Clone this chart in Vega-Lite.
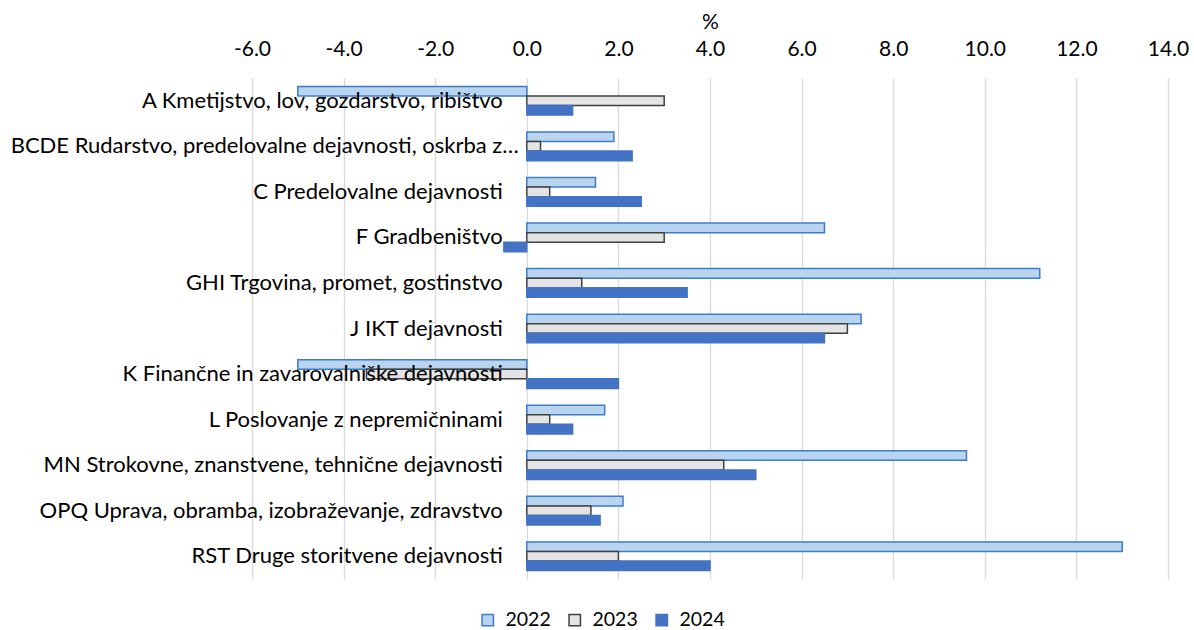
{
  "$schema": "https://vega.github.io/schema/vega-lite/v6.json",
  "width": 916,
  "height": 501,
  "autosize": "none",
  "padding": {"left": 252, "top": 78, "right": 26, "bottom": 51},
  "background": "white",
  "data": {
    "values": [
      {"sector": "A Kmetijstvo, lov, gozdarstvo, ribištvo", "year": "2022", "value": -5.0},
      {"sector": "A Kmetijstvo, lov, gozdarstvo, ribištvo", "year": "2023", "value": 3.0},
      {"sector": "A Kmetijstvo, lov, gozdarstvo, ribištvo", "year": "2024", "value": 1.0},
      {"sector": "BCDE Rudarstvo, predelovalne dejavnosti, oskrba z…", "year": "2022", "value": 1.9},
      {"sector": "BCDE Rudarstvo, predelovalne dejavnosti, oskrba z…", "year": "2023", "value": 0.3},
      {"sector": "BCDE Rudarstvo, predelovalne dejavnosti, oskrba z…", "year": "2024", "value": 2.3},
      {"sector": "C Predelovalne dejavnosti", "year": "2022", "value": 1.5},
      {"sector": "C Predelovalne dejavnosti", "year": "2023", "value": 0.5},
      {"sector": "C Predelovalne dejavnosti", "year": "2024", "value": 2.5},
      {"sector": "F Gradbeništvo", "year": "2022", "value": 6.5},
      {"sector": "F Gradbeništvo", "year": "2023", "value": 3.0},
      {"sector": "F Gradbeništvo", "year": "2024", "value": -0.5},
      {"sector": "GHI Trgovina, promet, gostinstvo", "year": "2022", "value": 11.2},
      {"sector": "GHI Trgovina, promet, gostinstvo", "year": "2023", "value": 1.2},
      {"sector": "GHI Trgovina, promet, gostinstvo", "year": "2024", "value": 3.5},
      {"sector": "J IKT dejavnosti", "year": "2022", "value": 7.3},
      {"sector": "J IKT dejavnosti", "year": "2023", "value": 7.0},
      {"sector": "J IKT dejavnosti", "year": "2024", "value": 6.5},
      {"sector": "K Finančne in zavarovalniške dejavnosti", "year": "2022", "value": -5.0},
      {"sector": "K Finančne in zavarovalniške dejavnosti", "year": "2023", "value": -3.5},
      {"sector": "K Finančne in zavarovalniške dejavnosti", "year": "2024", "value": 2.0},
      {"sector": "L Poslovanje z nepremičninami", "year": "2022", "value": 1.7},
      {"sector": "L Poslovanje z nepremičninami", "year": "2023", "value": 0.5},
      {"sector": "L Poslovanje z nepremičninami", "year": "2024", "value": 1.0},
      {"sector": "MN Strokovne, znanstvene, tehnične dejavnosti", "year": "2022", "value": 9.6},
      {"sector": "MN Strokovne, znanstvene, tehnične dejavnosti", "year": "2023", "value": 4.3},
      {"sector": "MN Strokovne, znanstvene, tehnične dejavnosti", "year": "2024", "value": 5.0},
      {"sector": "OPQ Uprava, obramba, izobraževanje, zdravstvo", "year": "2022", "value": 2.1},
      {"sector": "OPQ Uprava, obramba, izobraževanje, zdravstvo", "year": "2023", "value": 1.4},
      {"sector": "OPQ Uprava, obramba, izobraževanje, zdravstvo", "year": "2024", "value": 1.6},
      {"sector": "RST Druge storitvene dejavnosti", "year": "2022", "value": 13.0},
      {"sector": "RST Druge storitvene dejavnosti", "year": "2023", "value": 2.0},
      {"sector": "RST Druge storitvene dejavnosti", "year": "2024", "value": 4.0}
    ]
  },
  "encoding": {
    "y": {
      "field": "sector",
      "type": "nominal",
      "sort": null,
      "scale": {"paddingInner": 0.37, "paddingOuter": 0.185},
      "axis": null
    }
  },
  "layer": [
    {
      "mark": {"type": "bar", "strokeWidth": 1.5},
      "encoding": {
        "x": {
          "field": "value",
          "type": "quantitative",
          "scale": {"domain": [-6, 14], "nice": false, "zero": false},
          "axis": {
            "orient": "top",
            "values": [-6, -4, -2, 0, 2, 4, 6, 8, 10, 12, 14],
            "labelExpr": "replace(format(datum.value, '.1f'), '−', '-')",
            "title": "%",
            "titleFont": "Lato",
            "titleFontSize": 21,
            "titleFontWeight": "normal",
            "titleColor": "#000000",
            "titlePadding": 6,
            "labelFont": "Lato",
            "labelFontSize": 21,
            "labelColor": "#000000",
            "labelPadding": 19,
            "domain": false,
            "ticks": false,
            "grid": true,
            "gridColor": "#D9D9D9",
            "gridWidth": 1.3,
            "labelFlush": false
          }
        },
        "yOffset": {"field": "year", "type": "nominal", "sort": ["2022", "2023", "2024"]},
        "fill": {
          "field": "year",
          "type": "nominal",
          "scale": {"domain": ["2022", "2023", "2024"], "range": ["#B9D4EF", "#E4E4E4", "#4472C4"]},
          "legend": {
            "title": null,
            "orient": "none",
            "direction": "horizontal",
            "legendX": 226,
            "legendY": 532,
            "symbolType": "square",
            "symbolSize": 130,
            "symbolStrokeWidth": 1.5,
            "labelFont": "Lato",
            "labelFontSize": 19.5,
            "labelColor": "#000000",
            "labelOffset": 8,
            "columnPadding": 14
          }
        },
        "stroke": {
          "field": "year",
          "type": "nominal",
          "scale": {"domain": ["2022", "2023", "2024"], "range": ["#3E7CC6", "#404040", "#4472C4"]}
        }
      }
    },
    {
      "transform": [
        {"filter": "datum.year === '2022' && indexof(datum.sector, 'BCDE') !== 0"}
      ],
      "mark": {"type": "text", "align": "right", "baseline": "middle", "dx": -24, "font": "Lato", "fontSize": 22, "color": "#000000"},
      "encoding": {
        "x": {"datum": 0, "type": "quantitative"},
        "text": {"field": "sector"}
      }
    },
    {
      "transform": [
        {"filter": "datum.year === '2022' && indexof(datum.sector, 'BCDE') === 0"}
      ],
      "mark": {"type": "text", "align": "right", "baseline": "middle", "dx": -8, "font": "Lato", "fontSize": 22, "color": "#000000"},
      "encoding": {
        "x": {"datum": 0, "type": "quantitative"},
        "text": {"field": "sector"}
      }
    }
  ],
  "config": {"view": {"stroke": null}}
}
